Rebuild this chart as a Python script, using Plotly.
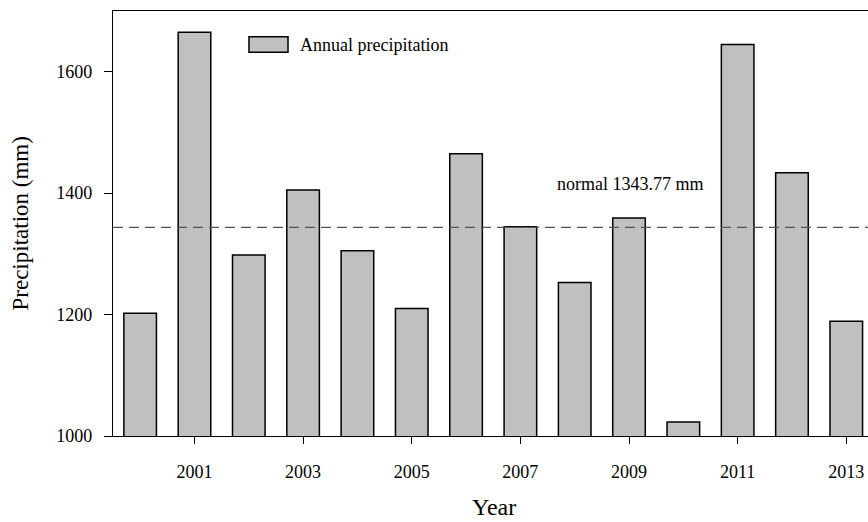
import plotly.graph_objects as go

# Annual precipitation totals (mm)
years = [2000, 2001, 2002, 2003, 2004, 2005, 2006, 2007, 2008, 2009, 2010, 2011, 2012, 2013]
precip = [1202, 1665, 1298, 1405, 1305, 1210, 1465, 1344.5, 1253, 1359, 1023, 1645, 1433.5, 1189]
normal_value = 1343.77
y_ticks = [1000, 1200, 1400, 1600]
x_ticks = [2001, 2003, 2005, 2007, 2009, 2011, 2013]

FONT = "Liberation Serif, Times New Roman, serif"
BAR_FILL = "#c0c0c0"

fig = go.Figure()
fig.add_trace(go.Bar(
    x=years,
    y=precip,
    width=0.6,
    marker=dict(color=BAR_FILL, line=dict(color="black", width=1.5)),
    name="Annual precipitation",
    showlegend=False,
))

# Long-term normal as a dashed reference line
fig.add_shape(
    type="line", xref="paper", x0=0, x1=1, yref="y", y0=normal_value, y1=normal_value,
    line=dict(color="#555555", width=1.2, dash="10px,6px"),
)
fig.add_annotation(
    x=2009.02, y=1415, xref="x", yref="y",
    text=f"normal {normal_value:.2f} mm", showarrow=False,
    font=dict(family=FONT, size=18, color="black"),
)

# Legend key drawn by hand
fig.add_shape(
    type="rect", xref="paper", yref="paper",
    x0=0.1801, x1=0.2318, y0=0.9028, y1=0.9395,
    fillcolor=BAR_FILL, line=dict(color="black", width=1.5),
)
fig.add_annotation(
    x=0.245, y=0.92, xref="paper", yref="paper", xanchor="left", yanchor="middle",
    text="Annual precipitation", showarrow=False,
    font=dict(family=FONT, size=18, color="black"),
)

# Axis titles
fig.add_annotation(
    x=0, y=0.5, xref="paper", yref="paper", xshift=-93, textangle=-90,
    xanchor="center", yanchor="middle",
    text="Precipitation (mm)", showarrow=False,
    font=dict(family=FONT, size=23, color="black"),
)
fig.add_annotation(
    x=0.5046, y=0, xref="paper", yref="paper", yshift=-71,
    xanchor="center", yanchor="middle",
    text="Year", showarrow=False,
    font=dict(family=FONT, size=24, color="black"),
)

fig.update_layout(
    width=868, height=522,
    margin=dict(l=113, r=0, t=11, b=86),
    paper_bgcolor="white", plot_bgcolor="white",
    font=dict(family=FONT, size=18, color="black"),
    bargap=0.4,
)
fig.update_xaxes(
    range=[1999.5, 2013.4],
    tickvals=x_ticks, ticktext=[str(v) for v in x_ticks],
    ticks="outside", ticklen=7, tickwidth=1.3, tickcolor="black",
    ticklabelstandoff=12,
    showline=True, linecolor="black", linewidth=1.3, mirror=True,
    showgrid=False, zeroline=False,
)
fig.update_yaxes(
    range=[1000, 1700],
    tickvals=y_ticks, ticktext=[str(v) for v in y_ticks],
    ticks="outside", ticklen=8, tickwidth=1.3, tickcolor="black",
    ticklabelstandoff=8,
    showline=True, linecolor="black", linewidth=1.3, mirror=False,
    showgrid=False, zeroline=False,
)

fig.write_html("out.html")
